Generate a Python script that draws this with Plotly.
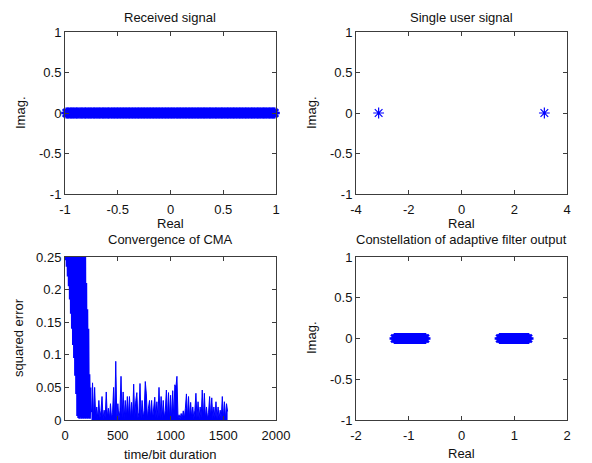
import numpy as np
import plotly.graph_objects as go

# the page body adds an 8 px margin, so the figure is drawn 8 px smaller
# and every reference pixel position is shifted by that offset
PAGE_W, PAGE_H = 592, 463
OFFSET = 8
W, H = PAGE_W - OFFSET, PAGE_H - OFFSET
BLUE = "#0000FF"
AXIS_COLOR = "#3C3C3C"
FONT = "Liberation Sans, Arial, sans-serif"

# ---------------- data ----------------
# received signal (real part), imag part is zero
rx_real = [
    -0.985, -0.972, -0.957, -0.941, -0.929, -0.914, -0.898, -0.885, -0.871, -0.853,
    -0.842, -0.826, -0.811, -0.799, -0.782, -0.768, -0.755, -0.739, -0.724, -0.712,
    -0.695, -0.681, -0.668, -0.652, -0.637, -0.626, -0.609, -0.594, -0.583, -0.566,
    -0.551, -0.538, -0.523, -0.509, -0.495, -0.481, -0.466, -0.452, -0.437, -0.424,
    -0.408, -0.395, -0.381, -0.366, -0.352, -0.338, -0.323, -0.309, -0.296, -0.281,
    -0.266, -0.253, -0.238, -0.224, -0.209, -0.196, -0.181, -0.167, -0.153, -0.139,
    -0.124, -0.111, -0.096, -0.082, -0.068, -0.053, -0.039, -0.025, -0.011, 0.004,
    0.018, 0.031, 0.047, 0.062, 0.075, 0.089, 0.103, 0.118, 0.133, 0.146,
    0.161, 0.176, 0.189, 0.204, 0.217, 0.232, 0.247, 0.261, 0.274, 0.289,
    0.304, 0.318, 0.331, 0.346, 0.362, 0.375, 0.388, 0.403, 0.419, 0.432,
    0.445, 0.461, 0.476, 0.489, 0.502, 0.518, 0.533, 0.546, 0.560, 0.575,
    0.590, 0.603, 0.617, 0.632, 0.647, 0.661, 0.674, 0.689, 0.704, 0.718,
    0.731, 0.746, 0.762, 0.775, 0.788, 0.803, 0.819, 0.832, 0.845, 0.861,
    0.876, 0.889, 0.902, 0.918, 0.933, 0.946, 0.960, 0.975, 0.985,
]
rx_imag = [0.0] * len(rx_real)

# single user signal
user_real = [-3.1416, 3.1416]
user_imag = [0.0, 0.0]

# constellation of adaptive filter output
out_real = [
    -1.262, -1.236, -1.209, -1.185, -1.158, -1.131, -1.104, -1.079, -1.052, -1.026,
    -0.998, -0.973, -0.946, -0.921, -0.893, -0.867, -0.842, -0.815, -0.788, -0.762,
    -0.736, -0.711, -0.690,
    0.731, 0.758, 0.784, 0.812, 0.838, 0.865, 0.891, 0.918, 0.944, 0.971,
    0.997, 1.024, 1.051, 1.077, 1.104, 1.131, 1.157, 1.184, 1.211, 1.238, 1.263,
]
out_imag = [0.0] * len(out_real)

# CMA squared error, start-up phase read every 5 bit durations (t = 1 .. 241)
cma_err_start = [
    0.320, 0.245, 0.380, 0.235, 0.410, 0.220, 0.360, 0.205, 0.440, 0.185,
    0.400, 0.163, 0.470, 0.140, 0.390, 0.115, 0.430, 0.095, 0.370, 0.068,
    0.450, 0.040, 0.380, 0.006, 0.410, 0.003, 0.350, 0.002, 0.420, 0.004,
    0.360, 0.002, 0.390, 0.003, 0.330, 0.002, 0.300, 0.003, 0.260, 0.002,
    0.210, 0.003, 0.170, 0.002, 0.140, 0.003, 0.070, 0.002, 0.050,
]
cma_t_start = np.arange(1, 5 * len(cma_err_start), 5)

# after convergence, read every 10 bit durations (t = 251 .. 1541)
cma_err_steady = [
    0.012, 0.057, 0.002, 0.050, 0.003, 0.020, 0.002, 0.030, 0.003, 0.014,
    0.036, 0.002, 0.015, 0.003, 0.043, 0.004, 0.018, 0.002, 0.025, 0.003,
    0.012, 0.050, 0.002, 0.090, 0.003, 0.025, 0.002, 0.014, 0.067, 0.003,
    0.043, 0.002, 0.030, 0.003, 0.036, 0.004, 0.036, 0.002, 0.027, 0.003,
    0.055, 0.002, 0.030, 0.042, 0.003, 0.012, 0.056, 0.002, 0.030, 0.003,
    0.015, 0.059, 0.040, 0.002, 0.018, 0.030, 0.003, 0.030, 0.002, 0.016,
    0.035, 0.003, 0.028, 0.002, 0.050, 0.003, 0.036, 0.002, 0.030, 0.003,
    0.015, 0.046, 0.002, 0.042, 0.003, 0.038, 0.002, 0.045, 0.003, 0.054,
    0.050, 0.067, 0.003, 0.008, 0.002, 0.010, 0.003, 0.014, 0.002, 0.018,
    0.040, 0.003, 0.036, 0.002, 0.027, 0.003, 0.020, 0.002, 0.015, 0.041,
    0.003, 0.028, 0.002, 0.020, 0.003, 0.046, 0.002, 0.041, 0.003, 0.020,
    0.002, 0.012, 0.036, 0.003, 0.034, 0.002, 0.020, 0.003, 0.028, 0.002,
    0.020, 0.003, 0.015, 0.002, 0.036, 0.003, 0.028, 0.002, 0.025, 0.013,
]
cma_t_steady = np.arange(251, 251 + 10 * len(cma_err_steady), 10)

# ---------------- layout helpers ----------------
def px_x(p):
    return (p - OFFSET) / W

def px_y(p):
    return 1 - (p - OFFSET) / H

def make_axis(domain, rng, ticks, anchor, standoff=0):
    return dict(
        domain=domain, range=rng, anchor=anchor,
        tickmode="array", tickvals=ticks, ticktext=[f"{t:g}" for t in ticks],
        ticks="inside", ticklen=4, tickcolor=AXIS_COLOR, tickwidth=1,
        ticklabelstandoff=standoff,
        showline=True, linecolor=AXIS_COLOR, linewidth=1, mirror="ticks",
        showgrid=False, zeroline=False, automargin=False,
        tickfont=dict(family=FONT, size=13, color="#111111"),
    )

x_left = [px_x(65), px_x(276)]
x_right = [px_x(356), px_x(567)]
y_top = [px_y(194), px_y(32)]
y_bot = [px_y(420), px_y(257)]

star = dict(symbol="asterisk-open", size=9, color=BLUE, line=dict(color=BLUE, width=2.4))

fig = go.Figure()
fig.add_trace(go.Scatter(x=rx_real, y=rx_imag, mode="markers", marker=star,
                         xaxis="x", yaxis="y", cliponaxis=False))
fig.add_trace(go.Scatter(x=user_real, y=user_imag, mode="markers",
                         marker=dict(star, line=dict(color=BLUE, width=1.2)),
                         xaxis="x2", yaxis="y2", cliponaxis=False))
fig.add_trace(go.Scatter(x=cma_t_start, y=cma_err_start, mode="lines",
                         line=dict(color=BLUE, width=2),
                         xaxis="x3", yaxis="y3"))
fig.add_trace(go.Scatter(x=cma_t_steady, y=cma_err_steady, mode="lines",
                         line=dict(color=BLUE, width=1), fill="tozeroy", fillcolor=BLUE,
                         xaxis="x3", yaxis="y3"))
fig.add_trace(go.Scatter(x=out_real, y=out_imag, mode="markers", marker=star,
                         xaxis="x4", yaxis="y4", cliponaxis=False))

half = [-1, -0.5, 0, 0.5, 1]
fig.update_layout(
    width=W, height=H,
    margin=dict(l=0, r=0, t=0, b=0, pad=0, autoexpand=False),
    paper_bgcolor="white", plot_bgcolor="white",
    showlegend=False,
    font=dict(family=FONT, size=13, color="#111111"),
    xaxis=make_axis(x_left, [-1, 1], half, "y", 3),
    yaxis=make_axis(y_top, [-1, 1], half, "x"),
    xaxis2=make_axis(x_right, [-4, 4], [-4, -2, 0, 2, 4], "y2", 3),
    yaxis2=make_axis(y_top, [-1, 1], half, "x2"),
    xaxis3=make_axis(x_left, [0, 2000], [0, 500, 1000, 1500, 2000], "y3", 3),
    yaxis3=make_axis(y_bot, [0, 0.25], [0, 0.05, 0.1, 0.15, 0.2, 0.25], "x3"),
    xaxis4=make_axis(x_right, [-2, 2], [-2, -1, 0, 1, 2], "y4", 3),
    yaxis4=make_axis(y_bot, [-1, 1], half, "x4"),
)

# titles and axis labels placed like the MATLAB figure
labels = [
    ("Received signal", 170.5, None, 0),
    ("Single user signal", 461.5, None, 0),
    ("Real", 170.5, 223, 0),
    ("Real", 461.5, 223, 0),
    ("Imag.", 20, 113, -90),
    ("Imag.", 311, 113, -90),
    ("Convergence of CMA", 170.5, 239, 0),
    ("Constellation of adaptive filter output", 461.5, 239, 0),
    ("squared error", 18, 338, -90),
    ("Imag.", 311, 338, -90),
    ("time/bit duration", 170.5, 454, 0),
    ("Real", 461.5, 453, 0),
]
for text, x, y, ang in labels:
    if y is None:
        # top titles sit right at the upper edge of the figure
        pos = dict(y=1.0, yanchor="top")
    else:
        pos = dict(y=px_y(y), yanchor="middle")
    fig.add_annotation(text=text, x=px_x(x), xref="paper", yref="paper",
                       xanchor="center", showarrow=False, textangle=ang,
                       font=dict(family=FONT, size=13, color="#111111"), **pos)

fig.write_html("out.html")
